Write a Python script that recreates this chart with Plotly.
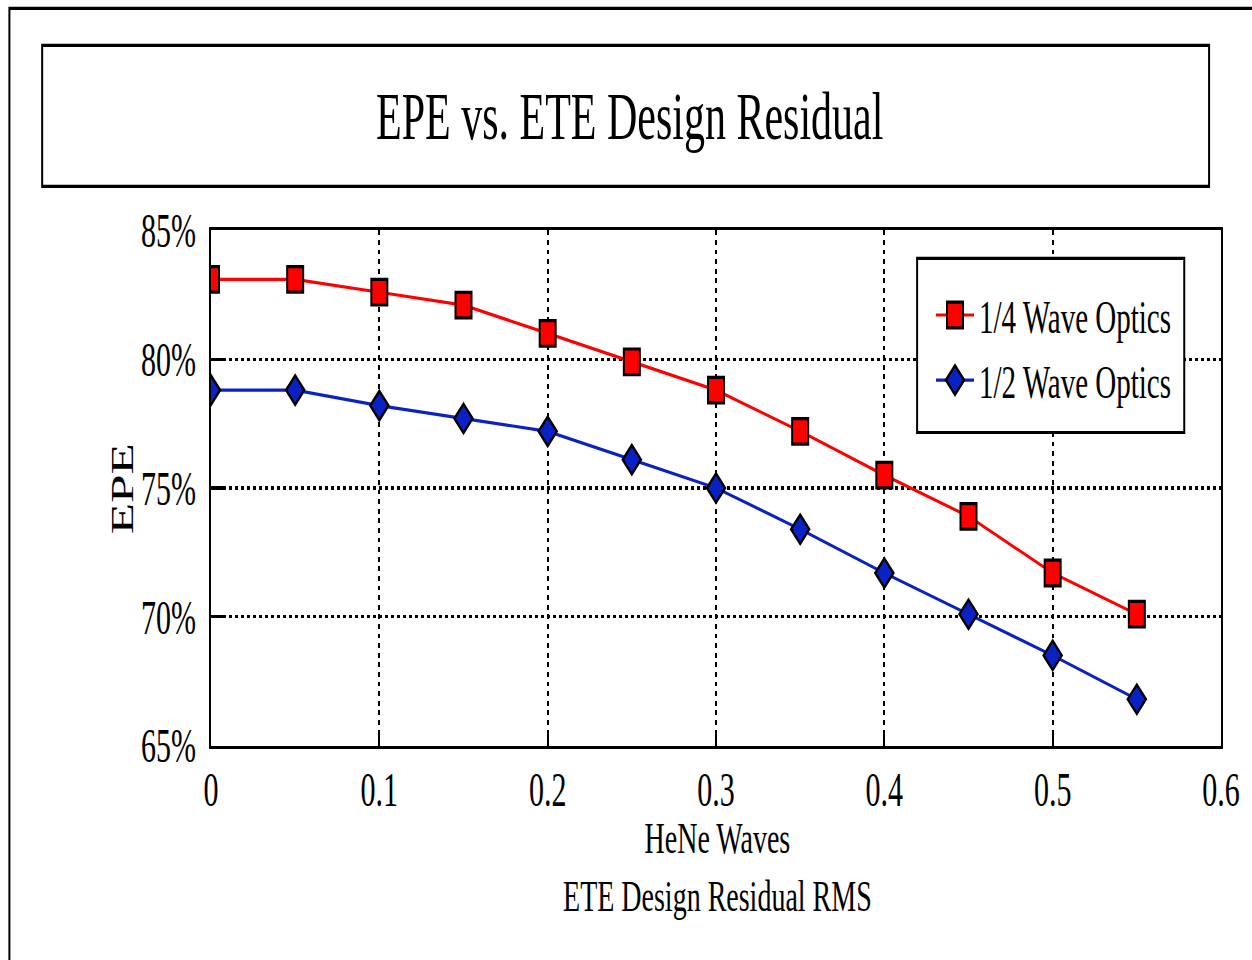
import plotly.graph_objects as go

# HeNe waves of ETE design residual RMS
residual_rms = [0.0, 0.05, 0.10, 0.15, 0.20, 0.25, 0.30, 0.35, 0.40, 0.45, 0.50, 0.55]
# EPE for each optics grade
epe_quarter_wave = [0.831, 0.831, 0.826, 0.821, 0.810, 0.799, 0.788, 0.772, 0.755, 0.739, 0.717, 0.701]
epe_half_wave = [0.788, 0.788, 0.782, 0.777, 0.772, 0.761, 0.750, 0.734, 0.717, 0.701, 0.685, 0.668]

series_names = ["1/4 Wave Optics", "1/2 Wave Optics"]
y_tick_values = [0.65, 0.70, 0.75, 0.80, 0.85]
x_tick_values = [0.0, 0.1, 0.2, 0.3, 0.4, 0.5, 0.6]
x_tick_text = ["0", "0.1", "0.2", "0.3", "0.4", "0.5", "0.6"]

FONT = "Liberation Serif, Times New Roman, serif"
STRETCH = 1.6   # vertical stretch applied to the whole page
XS = 1.005      # small horizontal correction of page positions
W, H = 1252, 600

# plot area in page pixels (before stretch)
L, R = 210 * XS, 1227 * XS
T, B = 230 / STRETCH, 745 / STRETCH


def px(xp):
    return (xp * XS - L) / (R - L)


def py(yp):
    return 1 - (yp / STRETCH - T) / (B - T)


fig = go.Figure()
fig.add_trace(go.Scatter(
    x=residual_rms, y=epe_quarter_wave, name=series_names[0], mode="lines+markers",
    line=dict(color="#FF0000", width=2),
    marker=dict(symbol="square", size=16, color="#FF0000", line=dict(color="black", width=2)),
    legendgroup="a",
))
fig.add_trace(go.Scatter(
    x=residual_rms, y=epe_half_wave, name=series_names[1], mode="lines+markers",
    line=dict(color="#0A22C4", width=2),
    marker=dict(symbol="diamond", size=14, color="#0A22C4", line=dict(color="black", width=2)),
    legendgroup="b",
))

axis_common = dict(
    showline=True, linecolor="black", linewidth=2, mirror=True,
    showgrid=True, gridcolor="black", gridwidth=1.5, griddash="dot",
    zeroline=False, ticks="inside", tickcolor="black", tickwidth=2,
    tickfont=dict(family=FONT, size=30, color="black"),
)
fig.update_xaxes(range=[0, 0.6], tickvals=x_tick_values, ticktext=x_tick_text,
                 ticklen=9, ticklabelstandoff=0, **axis_common)
fig.update_yaxes(range=[0.65, 0.85], tickvals=y_tick_values, tickformat=".0%",
                 ticklen=15, ticklabelstandoff=7, **axis_common)

shapes = [
    # page frame
    dict(type="rect", xref="paper", yref="paper", x0=px(7), x1=px(1300), y0=py(8), y1=py(1100),
         line=dict(color="black", width=2), layer="below"),
    # title frame
    dict(type="rect", xref="paper", yref="paper", x0=px(40), x1=px(1215), y0=py(45), y1=py(186),
         line=dict(color="black", width=2), fillcolor="white", layer="below"),
    # legend frame
    dict(type="rect", xref="paper", yref="paper", x0=px(921), x1=px(1190), y0=py(258), y1=py(432),
         line=dict(color="black", width=2), fillcolor="white", layer="above"),
]

annotations = [
    dict(text="EPE vs. ETE Design Residual", xref="paper", yref="paper", x=px(631), y=py(117),
         showarrow=False, font=dict(family=FONT, size=42, color="black"), xanchor="center", yanchor="middle"),
    dict(text="EPE", xref="paper", yref="paper", x=px(121), y=py(488), textangle=-90,
         showarrow=False, font=dict(family=FONT, size=32, color="black"), xanchor="center", yanchor="middle"),
    dict(text="HeNe Waves<br>ETE Design Residual RMS", xref="paper", yref="paper", x=px(720), y=py(866),
         showarrow=False, font=dict(family=FONT, size=28, color="black"), xanchor="center", yanchor="middle",
         align="center"),
]

fig.update_layout(
    width=W, height=H,
    margin=dict(l=L, r=W - R, t=T, b=H - B, pad=0),
    paper_bgcolor="white", plot_bgcolor="white",
    shapes=shapes, annotations=annotations,
    showlegend=True,
    legend=dict(x=px(935), y=py(274), xanchor="left", yanchor="top",
                bgcolor="rgba(0,0,0,0)", borderwidth=0, itemwidth=38,
                font=dict(family=FONT, size=29, color="black"),
                tracegroupgap=0, traceorder="grouped"),
)

stretch_js = (
    "document.body.style.margin='0';"
    "var gd=document.getElementById('{plot_id}');"
    "gd.style.transformOrigin='0 0';"
    "gd.style.transform='scaleY(" + str(STRETCH) + ")';"
)
fig.write_html("out.html", post_script=stretch_js)
